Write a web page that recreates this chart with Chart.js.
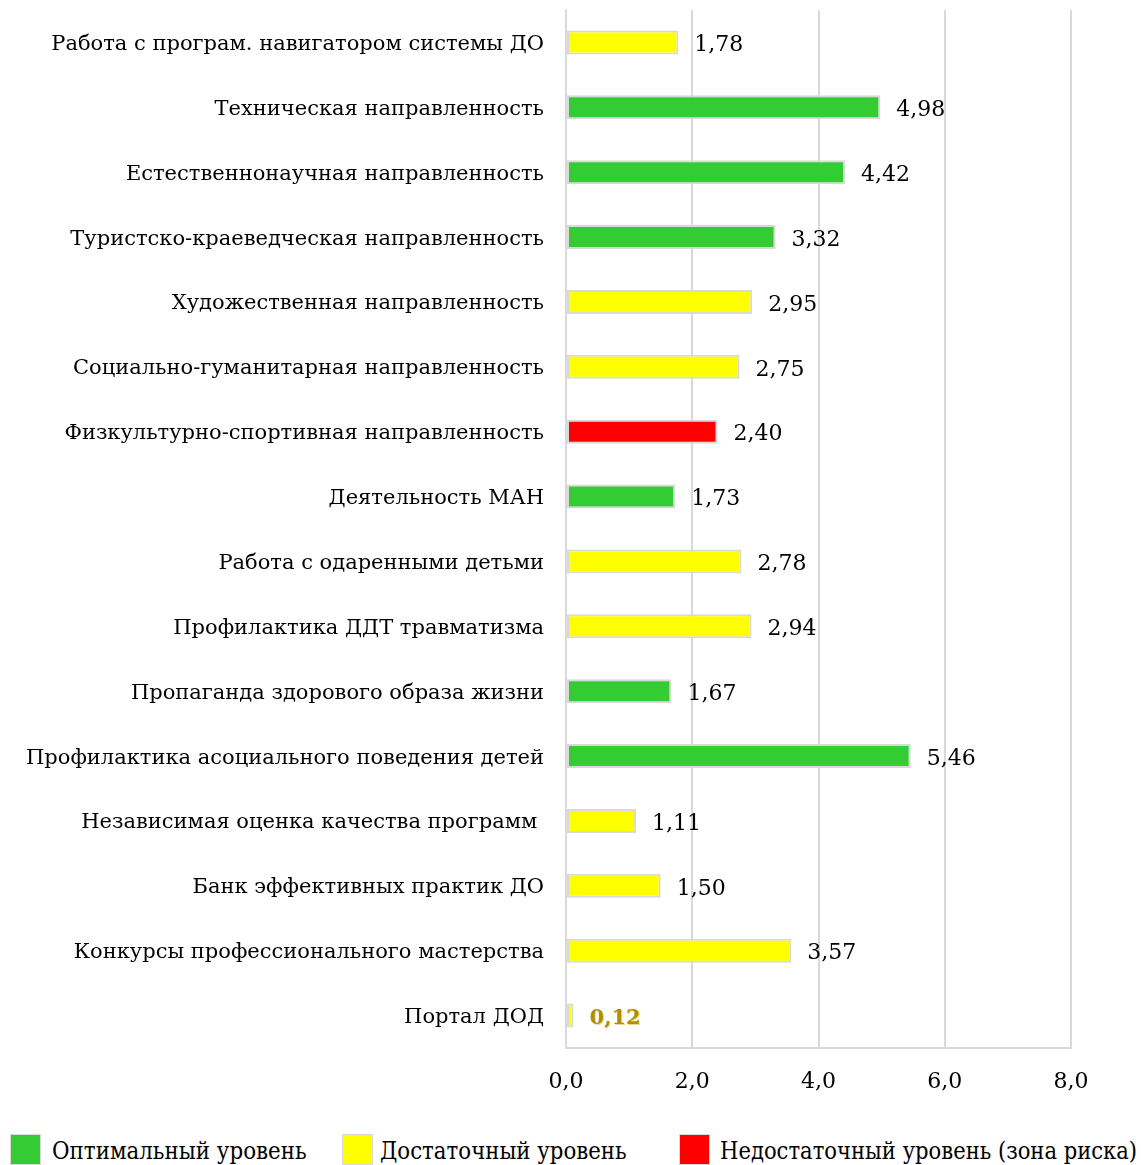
<!DOCTYPE html>
<html>
<head>
<meta charset="utf-8">
<script src="https://cdn.jsdelivr.net/npm/chart.js@4.4.1/dist/chart.umd.min.js"></script>
<style>
  html, body { margin: 0; padding: 0; background: #fff; }
  #wrap { position: relative; width: 1141px; height: 1165px; overflow: hidden; }
  #chart { position: absolute; left: 0; top: 0; }
  .lg-box { position: absolute; top: 1134px; width: 31px; height: 31px; box-sizing: border-box; border: 1px solid #d9d9d9; }
  .lg-text { position: absolute; top: 1135px; height: 31px; line-height: 31px; font-family: "DejaVu Serif", serif; font-size: 25px; color: #000; white-space: nowrap; transform-origin: left center; }
</style>
</head>
<body>
<div id="wrap">
  <canvas id="chart" width="1141" height="1100"></canvas>
  <div class="lg-box" style="left:10px;background:#33cc33"></div>
  <div class="lg-text" data-w="255" style="left:52px">Оптимальный уровень</div>
  <div class="lg-box" style="left:342px;background:#ffff00"></div>
  <div class="lg-text" data-w="247" style="left:380px">Достаточный уровень</div>
  <div class="lg-box" style="left:679px;background:#ff0000"></div>
  <div class="lg-text" data-w="417" style="left:720px">Недостаточный уровень (зона риска)</div>
</div>
<script>
// данные диаграммы (сверху вниз)
const categories = [
    "Работа с програм. навигатором системы ДО",
    "Техническая направленность",
    "Естественнонаучная направленность",
    "Туристско-краеведческая направленность",
    "Художественная направленность",
    "Социально-гуманитарная направленность",
    "Физкультурно-спортивная направленность",
    "Деятельность МАН",
    "Работа с одаренными детьми",
    "Профилактика ДДТ травматизма",
    "Пропаганда здорового образа жизни",
    "Профилактика асоциального поведения детей",
    "Независимая оценка качества программ ",
    "Банк эффективных практик ДО",
    "Конкурсы профессионального мастерства",
    "Портал ДОД"
];
const values = [1.78, 4.98, 4.42, 3.32, 2.95, 2.75, 2.40, 1.73, 2.78, 2.94, 1.67, 5.46, 1.11, 1.50, 3.57, 0.12];
// уровень: opt / dost / ned
const levels = ["dost", "opt", "opt", "opt", "dost", "dost", "ned", "opt", "dost", "dost", "opt", "opt", "dost", "dost", "dost", "dost"];
const xTicks = [0, 2, 4, 6, 8];

const levelColors = { opt: "#33cc33", dost: "#ffff00", ned: "#ff0000" };
const FONT = "DejaVu Serif";

function fmt(v, d) {
    return v.toFixed(d).replace(".", ",");
}

// подписи значений справа от столбцов
const valueLabels = {
    id: "valueLabels",
    afterDatasetsDraw(chart) {
        const ctx = chart.ctx;
        const meta = chart.getDatasetMeta(0);
        ctx.save();
        ctx.textAlign = "left";
        ctx.textBaseline = "middle";
        meta.data.forEach((bar, i) => {
            const v = values[i];
            const x = bar.x + 16;
            const y = bar.y + 3;
            if (v < 0.5) {
                // маленькое значение выделено
                ctx.font = "bold 21px '" + FONT + "'";
                ctx.fillStyle = "#e8d890";
                ctx.fillText(fmt(v, 2), x + 1, y + 1);
                ctx.fillStyle = "#b08f00";
                ctx.fillText(fmt(v, 2), x, y);
            } else {
                ctx.font = "22px '" + FONT + "'";
                ctx.fillStyle = "#000";
                ctx.fillText(fmt(v, 2), x, y);
            }
        });
        ctx.restore();
    }
};

const ctx = document.getElementById("chart").getContext("2d");
new Chart(ctx, {
    type: "bar",
    data: {
        labels: categories,
        datasets: [{
            data: values,
            backgroundColor: levels.map(l => levelColors[l]),
            borderColor: "#d9d9d9",
            borderWidth: 2,
            borderSkipped: false,
            categoryPercentage: 1,
            barPercentage: 0.37
        }]
    },
    options: {
        indexAxis: "y",
        responsive: false,
        animation: false,
        layout: { padding: { top: 10, right: 70, bottom: 0, left: 0 } },
        plugins: {
            legend: { display: false },
            tooltip: { enabled: false }
        },
        scales: {
            x: {
                min: xTicks[0],
                max: xTicks[xTicks.length - 1],
                afterBuildTicks(scale) {
                    scale.ticks = xTicks.map(v => ({ value: v }));
                },
                afterFit(scale) {
                    scale.height = 52;
                    scale.paddingLeft = 0;
                    scale.paddingRight = 0;
                },
                grid: { color: "#d9d9d9", lineWidth: 2, drawTicks: false },
                border: { color: "#d9d9d9", width: 2 },
                ticks: {
                    padding: 21,
                    color: "#000",
                    font: { family: FONT, size: 22 },
                    callback: v => fmt(v, 1)
                }
            },
            y: {
                afterFit(scale) {
                    scale.width = 566;
                    scale.paddingTop = 0;
                    scale.paddingBottom = 0;
                },
                grid: { display: false, drawTicks: false },
                border: { color: "#d9d9d9", width: 2 },
                ticks: {
                    padding: 22,
                    labelOffset: 2,
                    color: "#000",
                    autoSkip: false,
                    font: { family: FONT, size: 21 }
                }
            }
        }
    },
    plugins: [valueLabels]
});

// сжать подписи легенды по ширине
document.querySelectorAll(".lg-text").forEach(el => {
    const w = +el.dataset.w;
    el.style.transform = "scaleX(" + (w / el.offsetWidth) + ")";
});
</script>
</body>
</html>
